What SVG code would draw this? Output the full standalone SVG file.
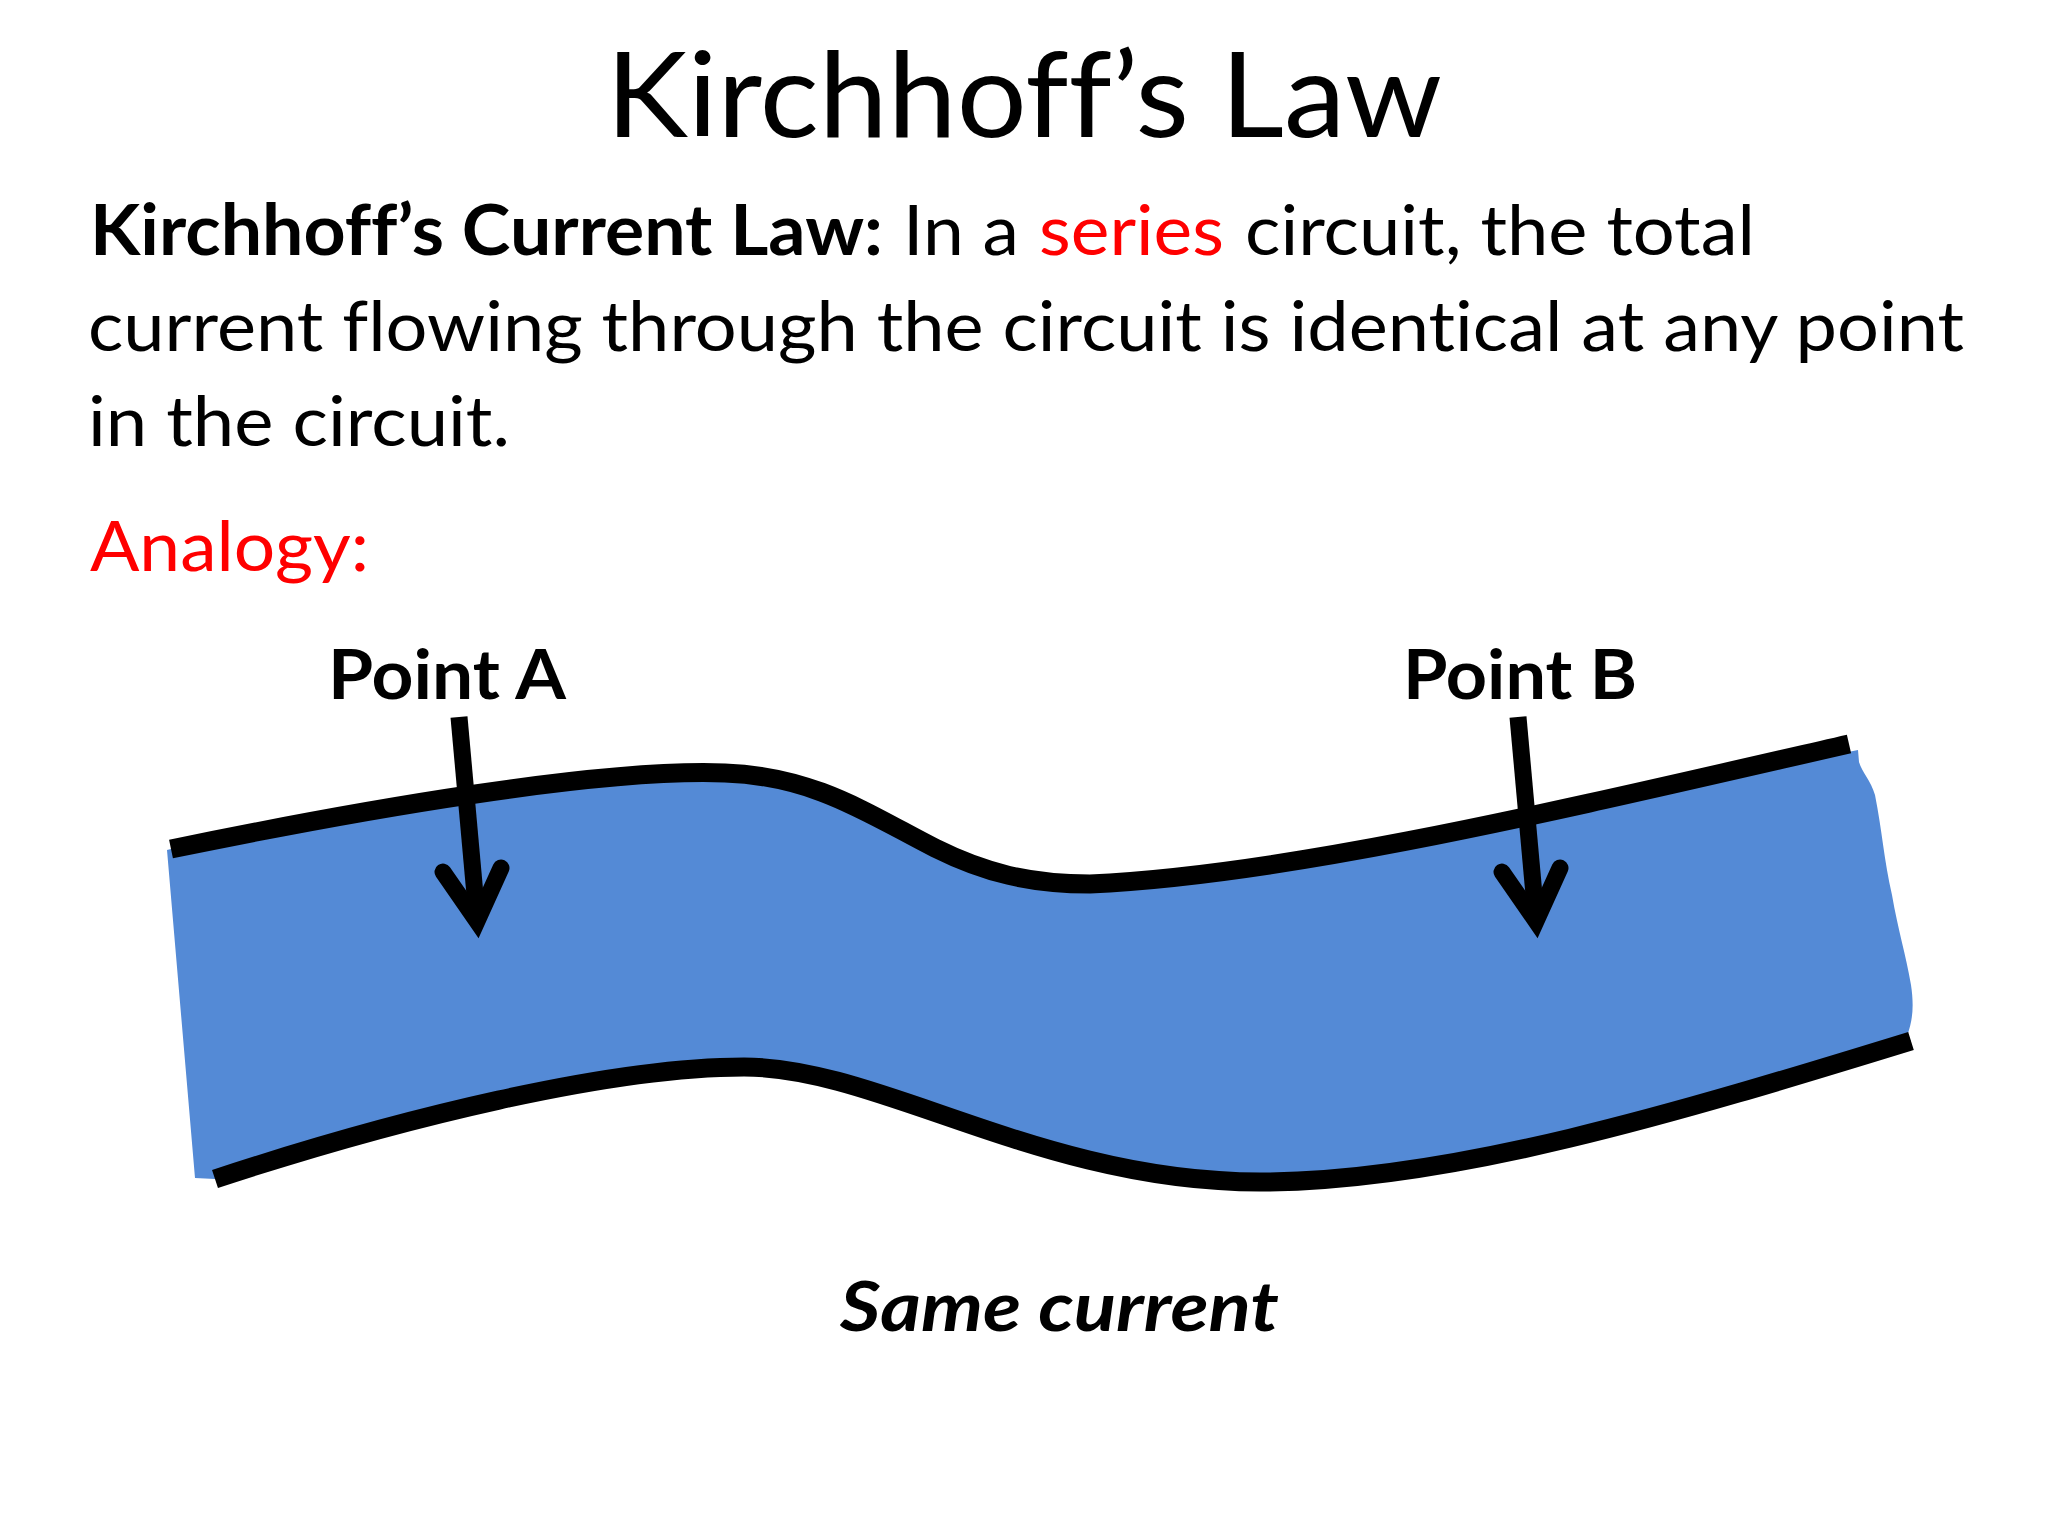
<svg xmlns="http://www.w3.org/2000/svg" width="2048" height="1536" viewBox="0 0 2048 1536">
  <defs>
    <g id="arrow-shape">
      <path class="ink" d="M0 0L18 200"/>
      <path class="ink head" d="M-16 155L18 204L42 151"/>
    </g>
  </defs>
  <style>
    text { font-family: Lato, "Liberation Sans", sans-serif; fill: #000; font-variant-ligatures: none; }
    .body { font-size: 70px; }
    .label { font-size: 68px; font-weight: 700; }
    .red { fill: #f00; }
    .wall { fill: none; stroke: #000; stroke-width: 19; }
    .ink { fill: none; stroke: #000; stroke-width: 17; }
    .head { stroke-linecap: round; stroke-linejoin: miter; stroke-miterlimit: 8; }
  </style>
  <rect width="2048" height="1536" fill="#fff"/>
  <text id="title" x="606" y="137" font-size="118" textLength="836" lengthAdjust="spacingAndGlyphs">Kirchhoff’s Law</text>
  <g id="law-text" class="body">
    <text x="90" y="255" font-weight="700" textLength="793" lengthAdjust="spacingAndGlyphs">Kirchhoff’s Current Law:</text>
    <text x="903" y="255" textLength="116" lengthAdjust="spacingAndGlyphs">In a</text>
    <text class="red" x="1039" y="255" textLength="185" lengthAdjust="spacingAndGlyphs">series</text>
    <text x="1245" y="255" textLength="510" lengthAdjust="spacingAndGlyphs">circuit, the total</text>
    <text x="88" y="351" textLength="1876" lengthAdjust="spacingAndGlyphs">current flowing through the circuit is identical at any point</text>
    <text x="88" y="446" textLength="422" lengthAdjust="spacingAndGlyphs">in the circuit.</text>
  </g>
  <text id="analogy" class="body red" x="90" y="571" textLength="279" lengthAdjust="spacingAndGlyphs">Analogy:</text>
  <g id="pipe">
    <path fill="#548AD6" d="M167 850L171 849C360 810 600 768 725 773C815 776 870 815 935 848C985 873 1030 884 1090 884C1290 875 1560 810 1858 750L1859 762C1862 772 1871 781 1875 795C1882 830 1884 860 1892 895C1898 930 1906 955 1911 985C1914 1005 1913 1020 1907 1036L1911 1041C1680 1112 1450 1182 1260 1182C1040 1182 880 1067 744 1067C610 1067 400 1118 215 1179L195 1178Z"/>
    <path class="wall" d="M171 849C360 810 600 768 725 773C815 776 870 815 935 848C985 873 1030 884 1090 884C1290 875 1560 810 1849 744"/>
    <path class="wall" d="M215 1179C400 1118 610 1067 744 1067C880 1067 1040 1182 1260 1182C1450 1182 1680 1112 1911 1041"/>
  </g>
  <g id="connectors">
    <use href="#arrow-shape" x="459" y="717"/>
    <use href="#arrow-shape" x="1518" y="717"/>
  </g>
  <g id="point-a"><text class="label" x="328" y="699" textLength="238" lengthAdjust="spacingAndGlyphs">Point A</text></g>
  <g id="point-b"><text class="label" x="1403" y="699" textLength="234" lengthAdjust="spacingAndGlyphs">Point B</text></g>
  <text id="caption" class="label" x="840" y="1331" font-style="italic" textLength="439" lengthAdjust="spacingAndGlyphs">Same current</text>
</svg>
